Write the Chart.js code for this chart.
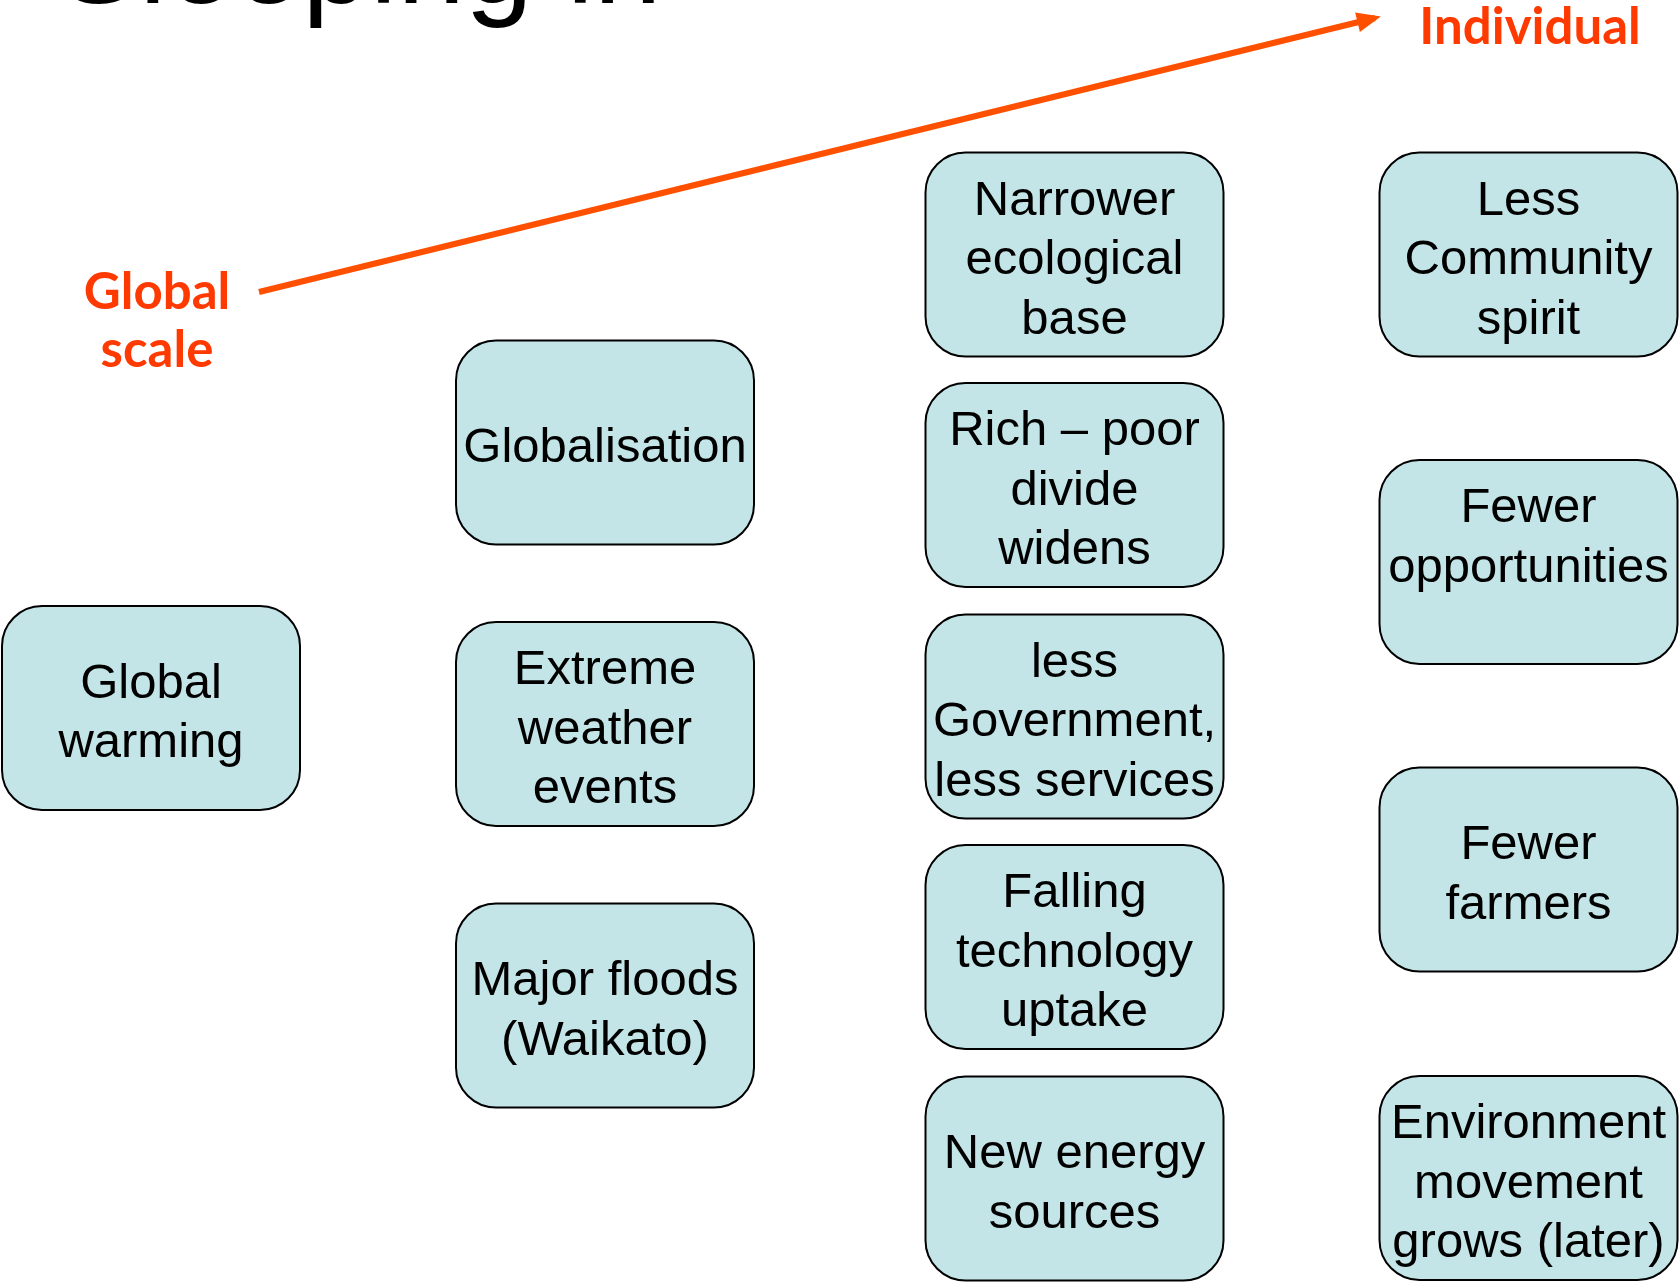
<!DOCTYPE html>
<html><head><meta charset="utf-8">
<script src="https://cdn.jsdelivr.net/npm/chart.js@4"></script>
<style>html,body{margin:0;padding:0;background:#fff;overflow:hidden}</style>
</head><body>
<canvas id="c" width="1679" height="1282"></canvas>
<script>
// ---- data (diagram coordinates, same units as the 1679 x 1282 stage) ----
const boxLabels = [
  'Global\nwarming',
  'Globalisation',
  'Extreme\nweather\nevents',
  'Major floods\n(Waikato)',
  'Narrower\necological\nbase',
  'Rich \u2013 poor\ndivide\nwidens',
  'less\nGovernment,\nless services',
  'Falling\ntechnology\nuptake',
  'New energy\nsources',
  'Less\nCommunity\nspirit',
  'Fewer\nopportunities\n',
  'Fewer\nfarmers',
  'Environment\nmovement\ngrows (later)'
];
const boxX = [151, 605, 605, 605, 1074.5, 1074.5, 1074.5, 1074.5, 1074.5, 1528.5, 1528.5, 1528.5, 1528.5];
const boxY = [708, 442.5, 724, 1005.5, 254.5, 485, 716.5, 947, 1178.5, 254.5, 562, 869.5, 1178];
const arrowX = [259, 1375];
const arrowY = [292, 18];
const sideLabels = ['Global\nscale', 'Individual'];
const sideX = [157, 1530];
const sideY = [309, 44];
const titleText = 'Sleeping in';
const titleX = [58];
const titleY = [3];

// ---- styles ----
const BOX_W = 298, BOX_H = 204, BOX_R = 40;
const BOX_FILL = '#C4E5E7', BOX_STROKE = '#000000';
const BOX_FONT = '49px "Liberation Sans", Arial, sans-serif';
const LINE_H = 59.5;
const ORANGE_TEXT = '#FF3A00', ORANGE_LINE = '#FF5000';
const SIDE_FONT = 'bold 51px "Comic Sans MS", Lato, sans-serif';

const diagramPlugin = {
  id: 'diagram',
  afterDatasetsDraw(chart) {
    const ctx = chart.ctx;
    const xs = chart.scales.x, ys = chart.scales.y;
    ctx.save();
    // boxes
    const meta = chart.getDatasetMeta(0);
    meta.data.forEach((pt, i) => {
      const cx = pt.x, cy = pt.y;
      ctx.beginPath();
      ctx.roundRect(cx - BOX_W / 2, cy - BOX_H / 2, BOX_W, BOX_H, BOX_R);
      ctx.fillStyle = BOX_FILL;
      ctx.fill();
      ctx.lineWidth = 2;
      ctx.strokeStyle = BOX_STROKE;
      ctx.stroke();
      const lines = boxLabels[i].split('\n');
      ctx.fillStyle = '#000';
      ctx.font = BOX_FONT;
      ctx.textAlign = 'center';
      ctx.textBaseline = 'middle';
      const n = lines.length;
      lines.forEach((ln, k) => {
        ctx.fillText(ln, cx, cy + 6 + (k - (n - 1) / 2) * LINE_H);
      });
    });
    // arrow head
    const am = chart.getDatasetMeta(1);
    const p0 = am.data[0], p1 = am.data[1];
    const ang = Math.atan2(p1.y - p0.y, p1.x - p0.x);
    const tipX = p1.x + 6 * Math.cos(ang), tipY = p1.y + 6 * Math.sin(ang);
    const L = 24, W = 10;
    const bx = tipX - L * Math.cos(ang), by = tipY - L * Math.sin(ang);
    ctx.beginPath();
    ctx.moveTo(tipX, tipY);
    ctx.lineTo(bx + W * Math.sin(ang), by - W * Math.cos(ang));
    ctx.lineTo(bx - W * Math.sin(ang), by + W * Math.cos(ang));
    ctx.closePath();
    ctx.fillStyle = ORANGE_LINE;
    ctx.fill();
    // side labels
    ctx.font = SIDE_FONT;
    ctx.fillStyle = ORANGE_TEXT;
    ctx.textAlign = 'center';
    ctx.textBaseline = 'alphabetic';
    sideLabels.forEach((t, i) => {
      t.split('\n').forEach((ln, k) => {
        ctx.fillText(ln, xs.getPixelForValue(sideX[i]), ys.getPixelForValue(sideY[i] + k * 58));
      });
    });
    // clipped title
    ctx.font = '122px "Liberation Sans", Arial, sans-serif';
    ctx.fillStyle = '#000';
    ctx.textAlign = 'left';
    ctx.fillText(titleText, xs.getPixelForValue(titleX[0]), ys.getPixelForValue(titleY[0]));
    ctx.restore();
  }
};

new Chart(document.getElementById('c'), {
  type: 'scatter',
  data: {
    datasets: [
      {
        label: 'boxes',
        data: boxX.map((x, i) => ({ x: x, y: boxY[i] })),
        pointRadius: 0,
        showLine: false
      },
      {
        label: 'arrow',
        data: arrowX.map((x, i) => ({ x: x, y: arrowY[i] })),
        showLine: true,
        borderColor: ORANGE_LINE,
        borderWidth: 6,
        borderCapStyle: 'butt',
        pointRadius: 0,
        fill: false
      }
    ]
  },
  options: {
    responsive: false,
    animation: false,
    events: [],
    layout: { padding: 0 },
    plugins: { legend: { display: false }, tooltip: { enabled: false }, title: { display: false } },
    scales: {
      x: { type: 'linear', min: 0, max: 1679, display: false },
      y: { type: 'linear', min: 0, max: 1282, reverse: true, display: false }
    }
  },
  plugins: [diagramPlugin]
});
</script>
</body></html>
